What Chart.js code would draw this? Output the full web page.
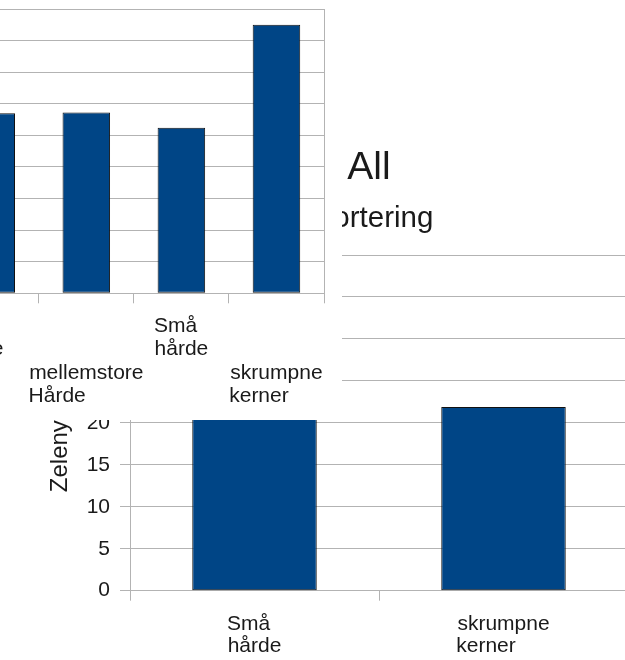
<!DOCTYPE html>
<html>
<head>
<meta charset="utf-8">
<script src="https://cdn.jsdelivr.net/npm/chart.js@4/dist/chart.umd.min.js"></script>
<style>
    html, body { margin: 0; padding: 0; width: 625px; height: 660px; overflow: hidden; background: #fff; }
    .box { position: absolute; background: #fff; }
    #boxB { left: -81px; top: 0; width: 709px; height: 660px; }
    #boxA { left: -100px; top: 0; width: 442px; height: 420px; }
</style>
</head>
<body>
<div class="box" id="boxB"><canvas id="chartB" width="709" height="660"></canvas></div>
<div class="box" id="boxA"><canvas id="chartA" width="442" height="420"></canvas></div>
<script>
// front chart (cut off on the left)
const A_catsA = [["Store", "hårde"], ["mellemstore", "Hårde"], ["Små", "hårde"], ["skrumpne", "kerner"]];
const A_valuesA = [28.5, 28.6, 26.2, 42.5];
const A_ticksA = [0, 5, 10, 15, 20, 25, 30, 35, 40, 45];

// back chart
const S_titleB = "Høst 2010 All";
const S_subtitleB = "Zeleny-tal efter sortering";
const S_yTitleB = "Zeleny værdi";
const A_catsB = [["Små", "hårde"], ["skrumpne", "kerner"]];
const A_valuesB = [24, 21.9];
const A_ticksB = [0, 5, 10, 15, 20, 25, 30, 35, 40];

const S_font = "'Liberation Sans', Arial, sans-serif";
const S_grid = "#b3b3b3";
const S_bar = "#004586";
const I_tickSize = 21;

Chart.defaults.font.family = S_font;
Chart.defaults.color = "#1a1a1a";

// lines of a label are left aligned in the reference: pad shorter ones with nbsp
function alignLines(A_lines, I_shift) {
    const ctx = document.createElement("canvas").getContext("2d");
    ctx.font = I_tickSize + "px " + S_font;
    const I_space = ctx.measureText("\u00a0").width;
    let I_max = 0;
    A_lines.forEach(S => I_max = Math.max(I_max, ctx.measureText(S).width));
    return A_lines.map(S => S + "\u00a0".repeat(Math.round((I_max - ctx.measureText(S).width) / I_space) + (I_shift || 0)));
}

function makeChart(S_id, A_labels, A_values, A_ticks, O_extra) {
    return new Chart(S_id, {
        type: "bar",
        data: {
            labels: A_labels,
            datasets: [{
                data: A_values,
                backgroundColor: S_bar,
                borderColor: "#111",
                borderWidth: 1,
                borderSkipped: false,
                barPercentage: 0.5,
                categoryPercentage: 1
            }]
        },
        options: {
            responsive: false,
            animation: false,
            layout: { padding: O_extra.padding },
            plugins: {
                legend: { display: false },
                tooltip: { enabled: false },
                title: O_extra.title || { display: false },
                subtitle: O_extra.subtitle || { display: false }
            },
            scales: {
                x: {
                    grid: { offset: true, drawOnChartArea: false, color: S_grid, tickLength: 10 },
                    border: { color: S_grid },
                    ticks: {
                        autoSkip: false, maxRotation: 0, minRotation: 0,
                        padding: O_extra.xPad,
                        font: { size: I_tickSize, lineHeight: O_extra.lineHeight }
                    },
                    afterFit: s => { s.height = O_extra.xHeight; }
                },
                y: {
                    min: A_ticks[0],
                    max: A_ticks[A_ticks.length - 1],
                    ticks: { stepSize: A_ticks[1] - A_ticks[0], display: O_extra.yTicks, padding: 10, font: { size: I_tickSize } },
                    grid: { color: S_grid, tickLength: 10 },
                    border: { color: S_grid },
                    title: O_extra.yTitle || { display: false },
                    afterFit: s => { s.width = O_extra.yWidth; }
                },
                yRight: {
                    position: "right",
                    ticks: { display: false },
                    grid: { drawOnChartArea: false, drawTicks: false },
                    border: { color: S_grid },
                    afterFit: s => { s.width = 0; }
                }
            }
        }
    });
}

makeChart("chartB", A_catsB.map(A => alignLines(A)), A_valuesB, A_ticksB, {
    padding: 0,
    xPad: 13,
    lineHeight: "22px",
    xHeight: 69.3,
    yWidth: 211,
    yTicks: true,
    title: {
        display: true, text: S_titleB, color: "#1a1a1a",
        font: { size: 39, weight: "normal" }, padding: { top: 145, bottom: 0 }
    },
    subtitle: {
        display: true, text: S_subtitleB, color: "#1a1a1a",
        font: { size: 29.5, weight: "normal" }, padding: { top: 9.4, bottom: 18.4 }
    },
    yTitle: {
        display: true, text: S_yTitleB, color: "#1a1a1a",
        font: { size: 24 }, padding: { top: 126.6, bottom: 0 }
    }
});

// every second label sits one row lower; the first one is pushed a bit to the left
const A_labelsA = A_catsA.map((A, i) => (i % 2 ? ["", ""] : []).concat(alignLines(A, i === 0 ? 5 : 0)));

makeChart("chartA", A_labelsA, A_valuesA, A_ticksA, {
    padding: { top: 9, right: 18, left: 0, bottom: 0 },
    xPad: 11,
    lineHeight: "23.4px",
    xHeight: 126.7,
    yWidth: 43.7,
    yTicks: false
});
</script>
</body>
</html>
